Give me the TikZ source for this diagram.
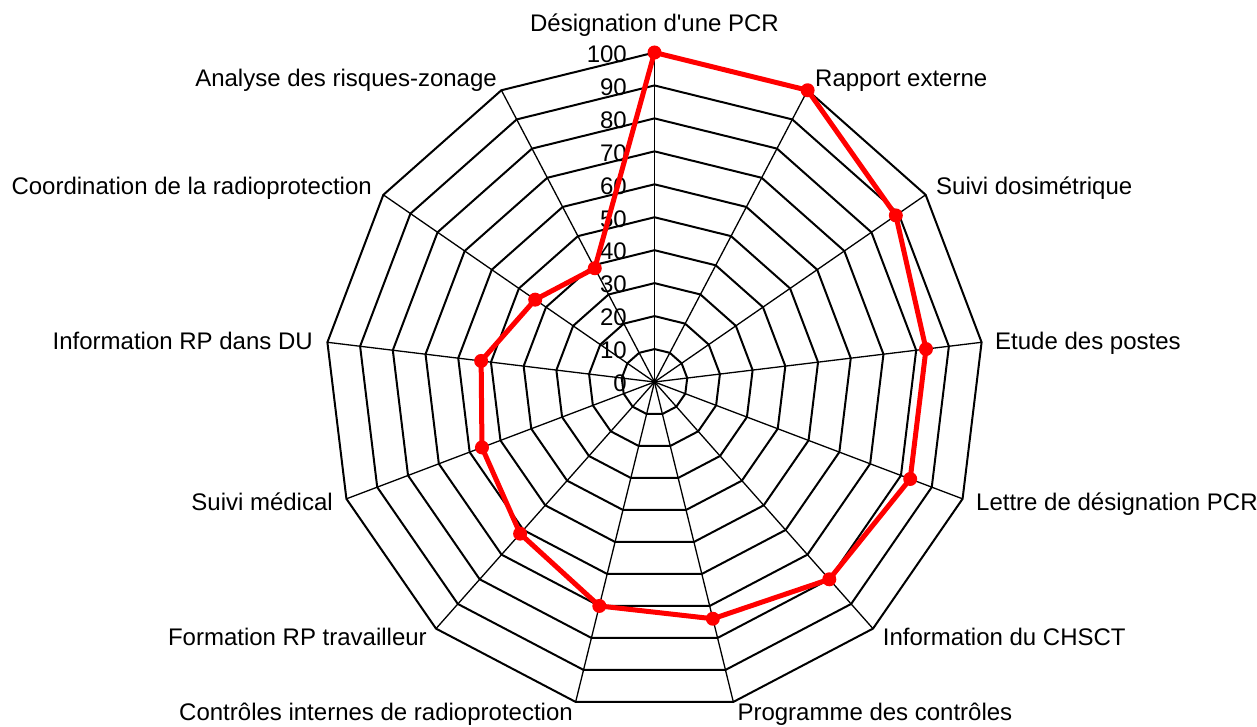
\documentclass[tikz,border=0pt]{standalone}
\usepackage{fontspec}
\setmainfont{Liberation Sans}
\begin{document}
\begin{tikzpicture}[x=1pt,y=1pt,
  ring/.style={line width=2pt, line join=miter, black},
  spoke/.style={line width=1.3pt, black},
  series/.style={draw=red, line width=5pt, line join=round},
  dot/.style={circle, fill=red, inner sep=0pt, minimum size=14pt},
  cat/.style={inner sep=0pt, font=\fontsize{24}{28}\selectfont},
  tick/.style={inner sep=0pt, anchor=east, font=\fontsize{24}{28}\selectfont}]
\useasboundingbox (-654.5,-344) rectangle (602.5,382);
\def\R{329.5}
% spokes
\foreach \k in {0,...,12} {
  \draw[spoke] (0,0) -- ({90-\k*360/13}:\R);
}
% rings
\foreach \i in {1,...,10} {
  \draw[ring] (90:{\i*32.95}) \foreach \k in {1,...,12} { -- ({90-\k*360/13}:{\i*32.95}) } -- cycle;
}
% tick labels
\foreach \v in {0,10,...,100} {
  \node[tick] (t\v) at (-27.5,{\v*3.295-1.5}) {\v};
}
% category labels
\node[cat, anchor=base] (c0) at (0,350) {Désignation d\textquotesingle une PCR};
\node[cat, anchor=base west] (c1) at (160.5,295.3) {Rapport externe};
\node[cat, anchor=base west] (c2) at (281.5,187.7) {Suivi dosimétrique};
\node[cat, anchor=base west] (c3) at (340.5,32.7) {Etude des postes};
\node[cat, anchor=base west] (c4) at (321.5,-128.7) {Lettre de désignation PCR};
\node[cat, anchor=base west] (c5) at (228.2,-263.7) {Information du CHSCT};
\node[cat, anchor=base west] (c6) at (82.8,-338.7) {Programme des contrôles};
\node[cat, anchor=base east] (c7) at (-81.5,-338.7) {Contrôles internes de radioprotection};
\node[cat, anchor=base east] (c8) at (-227.5,-263.7) {Formation RP travailleur};
\node[cat, anchor=base east] (c9) at (-321.5,-128.7) {Suivi médical};
\node[cat, anchor=base east] (c10) at (-341.5,32.7) {Information RP dans DU};
\node[cat, anchor=base east] (c11) at (-282.5,187.7) {Coordination de la radioprotection};
\node[cat, anchor=base east] (c12) at (-157.5,295.3) {Analyse des risques-zonage};
% data
\foreach \k/\val in {0/100,1/100,2/89,3/83,4/83,5/80,6/74,7/70,8/61.5,9/56,10/53,11/44,12/39} {
  \coordinate (v\k) at ({90-\k*360/13}:{\val*3.295});
}
\draw[series] (v0) -- (v1) -- (v2) -- (v3) -- (v4) -- (v5) -- (v6) -- (v7) -- (v8) -- (v9) -- (v10) -- (v11) -- (v12) -- cycle;
\foreach \k in {0,...,12} {
  \node[dot] (d\k) at (v\k) {};
}
\end{tikzpicture}
\end{document}
